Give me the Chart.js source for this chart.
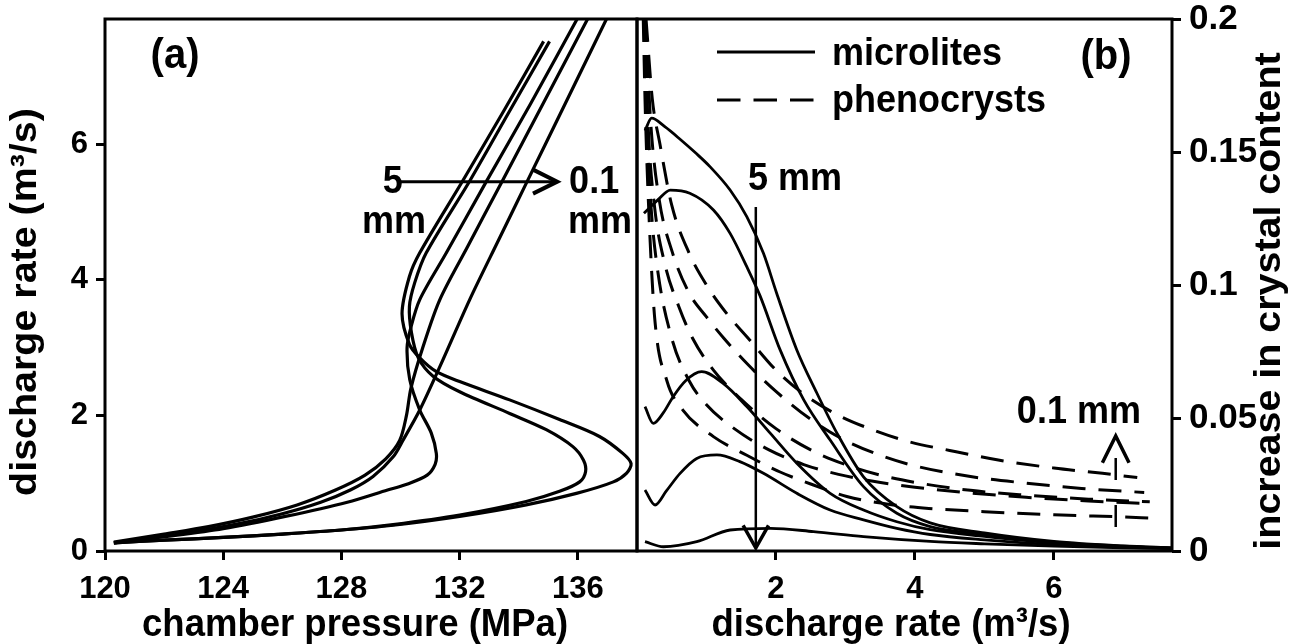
<!DOCTYPE html>
<html>
<head>
<meta charset="utf-8">
<script src="https://cdn.jsdelivr.net/npm/chart.js@4.4.1/dist/chart.umd.min.js"></script>
<style>
  html, body { margin: 0; padding: 0; background: #fff; }
  #wrap { position: relative; width: 1304px; height: 644px; overflow: hidden; }
  #chartA { position: absolute; left: 0; top: 0; }
  #chartB { position: absolute; left: 630px; top: 0; }
</style>
</head>
<body>
<div id="wrap">
  <canvas id="chartA" width="640" height="644"></canvas>
  <canvas id="chartB" width="674" height="644"></canvas>
</div>
<script>
// (a) discharge rate against chamber pressure, five crystal sizes (5 mm ... 0.1 mm)
const rateA1  = [0.12, 0.16, 0.20, 0.25, 0.31, 0.38, 0.51, 0.68, 0.85, 1.02, 1.15, 1.29, 1.44, 1.69, 1.94, 2.23, 2.50, 2.65, 2.85, 3.05, 3.50, 4.05, 4.40, 5.46, 6.50, 7.52];
const pressA1 = [120.3, 122.0, 124.0, 126.0, 128.0, 129.75, 132.0, 134.25, 135.95, 137.2, 137.65, 137.8, 137.52, 136.73, 135.38, 133.69, 132.0, 131.2, 130.65, 130.3, 130.05, 130.3, 130.65, 132.1, 133.5, 134.84];

const rateA2  = [0.12, 0.16, 0.20, 0.25, 0.31, 0.39, 0.53, 0.73, 0.88, 1.02, 1.17, 1.34, 1.54, 1.79, 2.03, 2.35, 2.58, 2.85, 3.22, 3.61, 3.96, 4.40, 5.46, 6.50, 7.52];
const pressA2 = [120.3, 122.0, 124.0, 126.0, 128.0, 129.75, 132.0, 134.25, 135.38, 136.06, 136.26, 136.19, 135.83, 134.93, 133.69, 132.0, 131.1, 130.6, 130.37, 130.3, 130.48, 130.87, 132.34, 133.7, 135.04];

const rateA3  = [0.12, 0.21, 0.33, 0.51, 0.72, 0.90, 0.99, 1.12, 1.28, 1.44, 1.74, 2.08, 2.53, 3.0, 3.3, 3.71, 4.4, 5.45, 6.6, 7.95];
const pressA3 = [120.3, 122.0, 124.0, 126.1, 128.2, 129.56, 130.24, 130.9, 131.17, 131.21, 131.04, 130.65, 130.31, 130.22, 130.35, 130.65, 131.55, 132.9, 134.4, 136.1];

const rateA4  = [0.13, 0.25, 0.36, 0.50, 0.68, 0.90, 1.12, 1.36, 1.63, 2.0, 2.4, 3.0, 3.71, 4.5, 5.45, 6.6, 7.95];
const pressA4 = [120.3, 122.0, 123.5, 125.0, 126.5, 127.8, 128.8, 129.5, 129.97, 130.2, 130.35, 130.75, 131.33, 132.28, 133.43, 134.82, 136.45];

const rateA5  = [0.12, 0.25, 0.40, 0.55, 0.72, 0.90, 1.10, 1.39, 1.64, 2.08, 2.72, 3.71, 4.6, 5.45, 6.6, 7.95];
const pressA5 = [120.3, 122.5, 124.5, 126.0, 127.3, 128.3, 129.07, 129.75, 130.09, 130.65, 131.33, 132.34, 133.33, 134.28, 135.57, 137.08];

// (b) increase in crystal content against discharge rate
// microlites (solid)
const rateM1 = [0.115, 0.21, 0.4, 0.62, 0.85, 1.05, 1.34, 1.58, 1.82, 2.01, 2.30, 2.59, 2.88, 3.26, 3.74, 4.22, 5.0, 6.0, 7.0, 7.7];
const incM1  = [0.158, 0.1627, 0.1595, 0.1548, 0.1495, 0.1445, 0.1357, 0.1257, 0.1119, 0.0969, 0.0756, 0.0593, 0.0442, 0.0279, 0.0167, 0.0106, 0.0068, 0.0036, 0.0019, 0.0012];
const rateM2 = [0.1, 0.2, 0.3, 0.48, 0.76, 1.10, 1.34, 1.58, 1.77, 2.06, 2.40, 2.78, 3.26, 3.74, 4.22, 5.0, 6.0, 7.0, 7.7];
const incM2  = [0.127, 0.1295, 0.132, 0.1357, 0.1345, 0.1282, 0.1194, 0.1069, 0.096, 0.0756, 0.0568, 0.0417, 0.0242, 0.0142, 0.0092, 0.0062, 0.0033, 0.0018, 0.0011];
const rateM3 = [0.115, 0.235, 0.38, 0.52, 0.7, 0.93, 1.24, 1.58, 1.92, 2.30, 2.78, 3.26, 3.74, 4.22, 5.0, 6.0, 7.0, 7.7];
const incM3  = [0.0543, 0.048, 0.052, 0.058, 0.064, 0.0674, 0.063, 0.0543, 0.0442, 0.033, 0.0217, 0.0154, 0.011, 0.008, 0.0055, 0.003, 0.0017, 0.0011];
const rateM4 = [0.115, 0.26, 0.42, 0.62, 0.86, 1.15, 1.48, 1.82, 2.30, 2.78, 3.26, 3.74, 4.22, 5.0, 6.0, 7.0, 7.7];
const incM4  = [0.0229, 0.0173, 0.0225, 0.0292, 0.0348, 0.0361, 0.0336, 0.0292, 0.0217, 0.0154, 0.0117, 0.0085, 0.0062, 0.0042, 0.0024, 0.0014, 0.001];
const rateM5 = [0.115, 0.38, 0.86, 1.34, 1.92, 2.54, 3.26, 4.22, 5.0, 6.0, 7.0, 7.7];
const incM5  = [0.0035, 0.0016, 0.0035, 0.0079, 0.0085, 0.0073, 0.0054, 0.0036, 0.0027, 0.0018, 0.0012, 0.0009];

// phenocrysts (dashed)
const rateP1 = [0.09, 0.12, 0.19, 0.26, 0.43, 0.66, 1.1, 1.58, 2.06, 2.54, 3.02, 3.64, 4.2, 5.0, 6.0, 7.0, 7.4];
const incP1  = [0.2, 0.165, 0.116, 0.086, 0.064, 0.053, 0.043, 0.036, 0.0297, 0.0248, 0.0205, 0.0175, 0.016, 0.0148, 0.0136, 0.0128, 0.0124];
const rateP2 = [0.1, 0.14, 0.2, 0.3, 0.5, 0.75, 1.0, 1.4, 1.9, 2.4, 2.9, 3.4, 4.0, 4.8, 5.6, 6.5, 7.38];
const incP2  = [0.2, 0.16, 0.13, 0.105, 0.08, 0.064, 0.055, 0.046, 0.038, 0.0325, 0.0288, 0.0262, 0.024, 0.0218, 0.0202, 0.0188, 0.0178];
const rateP3 = [0.11, 0.16, 0.25, 0.4, 0.6, 0.8, 1.1, 1.5, 2.0, 2.5, 3.0, 3.5, 4.0, 4.8, 5.6, 6.5, 7.38];
const incP3  = [0.2, 0.16, 0.13, 0.108, 0.092, 0.08, 0.068, 0.057, 0.046, 0.038, 0.0325, 0.0285, 0.0258, 0.0228, 0.021, 0.0195, 0.0185];
const rateP4 = [0.12, 0.2, 0.32, 0.5, 0.75, 1.0, 1.25, 1.6, 2.0, 2.5, 3.0, 3.5, 4.0, 4.8, 5.6, 6.4, 7.3];
const incP4  = [0.2, 0.16, 0.132, 0.113, 0.097, 0.088, 0.08, 0.07, 0.06, 0.0495, 0.0415, 0.036, 0.032, 0.028, 0.0255, 0.0235, 0.022];
const rateP5 = [0.13, 0.22, 0.33, 0.5, 0.75, 1.0, 1.3, 1.6, 2.0, 2.4, 2.9, 3.4, 3.9, 4.5, 5.2, 6.0, 6.7, 7.2];
const incP5  = [0.2, 0.17, 0.153, 0.13, 0.112, 0.1, 0.089, 0.08, 0.068, 0.059, 0.051, 0.0455, 0.0412, 0.0378, 0.0342, 0.0312, 0.0292, 0.0276];

const ticksA_x = [120, 124, 128, 132, 136];
const ticksA_y = [0, 2, 4, 6];
const ticksB_x = [2, 4, 6];
const ticksB_y = [0, 0.05, 0.1, 0.15, 0.2];

const FONT = '"Liberation Sans", Arial, Helvetica, sans-serif';
const STRETCH = 1.08;   // lettering is a little taller than it is wide
Chart.defaults.font.family = FONT;
Chart.defaults.font.weight = 'bold';
Chart.defaults.color = '#000';

const pairs = (xs, ys) => xs.map((x, i) => ({ x: x, y: ys[i] }));

function txt(ctx, s, x, y, size, align) {
  ctx.save();
  ctx.translate(x, y);
  ctx.scale(1, STRETCH);
  ctx.font = 'bold ' + size + 'px ' + FONT;
  ctx.fillStyle = '#000';
  ctx.textAlign = align || 'center';
  ctx.textBaseline = 'alphabetic';
  ctx.fillText(s, 0, 0);
  ctx.restore();
}

// text turned to read bottom-to-top, baseline on the right
function vtxt(ctx, s, x, y, size) {
  ctx.save();
  ctx.translate(x, y);
  ctx.rotate(-Math.PI / 2);
  ctx.scale(STRETCH, 1);
  ctx.font = 'bold ' + size + 'px ' + FONT;
  ctx.fillStyle = '#000';
  ctx.textAlign = 'center';
  ctx.textBaseline = 'alphabetic';
  ctx.fillText(s, 0, 0);
  ctx.restore();
}

function arrow(ctx, x0, y0, x1, y1, w, head, spread, dash) {
  const ang = Math.atan2(y1 - y0, x1 - x0);
  ctx.save();
  ctx.strokeStyle = '#000';
  ctx.lineWidth = w;
  if (dash) ctx.setLineDash(dash);
  ctx.beginPath(); ctx.moveTo(x0, y0); ctx.lineTo(x1, y1); ctx.stroke();
  ctx.setLineDash([]);
  ctx.lineWidth = w + 1;
  ctx.lineJoin = 'miter';
  ctx.beginPath();
  ctx.moveTo(x1 - head * Math.cos(ang - spread), y1 - head * Math.sin(ang - spread));
  ctx.lineTo(x1, y1);
  ctx.lineTo(x1 - head * Math.cos(ang + spread), y1 - head * Math.sin(ang + spread));
  ctx.stroke();
  ctx.restore();
}

const frame = {
  id: 'frame',
  afterDatasetsDraw(chart) {
    const { ctx, chartArea: a } = chart;
    ctx.save();
    ctx.lineWidth = 3;
    ctx.strokeStyle = '#000';
    ctx.strokeRect(a.left, a.top, a.right - a.left, a.bottom - a.top);
    ctx.restore();
  }
};

const tickFont = { family: FONT, size: 31, weight: 'bold' };
const tickFontRight = { family: FONT, size: 35, weight: 'bold' };
const tickGrid = { drawOnChartArea: false, drawTicks: true, tickLength: 9, tickWidth: 3, tickColor: '#000' };
const keepTicks = list => s => { s.ticks = list.map(v => ({ value: v })); };

// ---- panel (a)
const annoA = {
  id: 'annoA',
  afterDraw(chart) {
    const { ctx, chartArea: a, scales: { x, y } } = chart;
    const px = v => x.getPixelForValue(v), py = v => y.getPixelForValue(v);
    txt(ctx, '(a)', px(122.37), py(7.127), 40);
    txt(ctx, '5', px(129.74), py(5.283), 36);
    txt(ctx, 'mm', px(129.78), py(4.692), 36);
    txt(ctx, '0.1', px(136.55), py(5.283), 36);
    txt(ctx, 'mm', px(136.75), py(4.692), 36);
    arrow(ctx, px(129.98), py(5.45), px(135.3), py(5.45), 3, 27, 0.46);
    txt(ctx, 'chamber pressure (MPa)', px(128.46), 636, 36.5);
    vtxt(ctx, 'discharge rate (m³/s)', a.left - 69, py(3.674), 36.5);
  }
};

const curvesA = [[pressA1, rateA1], [pressA2, rateA2], [pressA3, rateA3], [pressA4, rateA4], [pressA5, rateA5]];

new Chart(document.getElementById('chartA'), {
  type: 'scatter',
  data: {
    datasets: curvesA.map(([p, q]) => ({
      data: pairs(p, q), showLine: true, tension: 0.3,
      borderColor: '#000', borderWidth: 3.2, pointRadius: 0, fill: false
    }))
  },
  options: {
    responsive: false, animation: false, devicePixelRatio: 1,
    layout: { padding: { top: 19, right: 3, left: 0, bottom: 0 } },
    plugins: { legend: { display: false }, tooltip: { enabled: false } },
    scales: {
      x: {
        type: 'linear', min: 120, max: 138,
        ticks: { font: tickFont, color: '#000', padding: 11, maxRotation: 0 },
        afterBuildTicks: keepTicks(ticksA_x),
        grid: tickGrid, border: { display: false },
        afterFit: s => { s.height = 93; s.paddingLeft = 0; s.paddingRight = 0; }
      },
      y: {
        type: 'linear', min: 0, max: 7.85,
        ticks: { font: tickFont, color: '#000', padding: 8 },
        afterBuildTicks: keepTicks(ticksA_y),
        grid: tickGrid, border: { display: false },
        afterFit: s => { s.width = 105; s.paddingTop = 0; s.paddingBottom = 0; }
      }
    }
  },
  plugins: [frame, annoA]
});

// ---- panel (b)
const annoB = {
  id: 'annoB',
  afterDraw(chart) {
    const { ctx, chartArea: a, scales: { x, y } } = chart;
    const px = v => x.getPixelForValue(v), py = v => y.getPixelForValue(v);

    // key
    ctx.save();
    ctx.strokeStyle = '#000';
    ctx.lineWidth = 3;
    ctx.beginPath(); ctx.moveTo(a.left + 80, a.top + 33); ctx.lineTo(a.left + 178, a.top + 33); ctx.stroke();
    ctx.setLineDash([23.5, 13]);
    ctx.beginPath(); ctx.moveTo(a.left + 80, a.top + 81); ctx.lineTo(a.left + 178, a.top + 81); ctx.stroke();
    ctx.restore();
    txt(ctx, 'microlites', a.left + 195, a.top + 46, 36, 'left');
    txt(ctx, 'phenocrysts', a.left + 195, a.top + 93, 36, 'left');

    txt(ctx, '(b)', px(6.75), py(0.1812), 40);
    txt(ctx, '5 mm', px(2.274), py(0.1357), 36);
    arrow(ctx, px(1.71), py(0.1293), px(1.71), py(0) - 3, 2.5, 26, 0.51);
    txt(ctx, '0.1 mm', px(6.36), py(0.0481), 36);
    arrow(ctx, px(6.89), py(0.009), px(6.89), py(0.0444) + 3, 2.5, 30, 0.46, [22, 25]);

    txt(ctx, 'discharge rate (m³/s)', px(3.656), 636, 36.5);
    vtxt(ctx, 'increase in crystal content', a.right + 108, py(0.094), 36.5);
  }
};

const solidB = [[rateM1, incM1], [rateM2, incM2], [rateM3, incM3], [rateM4, incM4], [rateM5, incM5]];
const dashedB = [[rateP1, incP1], [rateP2, incP2], [rateP3, incP3], [rateP4, incP4], [rateP5, incP5]];
const lineB = (xs, ys, dash, w) => ({
  data: pairs(xs, ys), showLine: true, cubicInterpolationMode: 'monotone',
  borderColor: '#000', borderWidth: w, borderDash: dash, pointRadius: 0, fill: false
});

new Chart(document.getElementById('chartB'), {
  type: 'scatter',
  data: {
    datasets: solidB.map(([r, c]) => lineB(r, c, [], 2.8))
      .concat(dashedB.map(([r, c]) => lineB(r, c, [23, 13], 3)))
  },
  options: {
    responsive: false, animation: false, devicePixelRatio: 1,
    layout: { padding: { top: 19, right: 0, left: 7, bottom: 0 } },
    plugins: { legend: { display: false }, tooltip: { enabled: false } },
    scales: {
      x: {
        type: 'linear', min: 0, max: 7.7,
        ticks: { font: tickFont, color: '#000', padding: 11, maxRotation: 0 },
        afterBuildTicks: keepTicks(ticksB_x),
        grid: tickGrid, border: { display: false },
        afterFit: s => { s.height = 93; s.paddingLeft = 0; s.paddingRight = 0; }
      },
      y: {
        type: 'linear', position: 'right', min: 0, max: 0.2,
        ticks: { font: tickFontRight, color: '#000', padding: 8, callback: v => String(+v.toFixed(2)) },
        afterBuildTicks: keepTicks(ticksB_y),
        grid: tickGrid, border: { display: false },
        afterFit: s => { s.width = 132; s.paddingTop = 0; s.paddingBottom = 0; }
      }
    }
  },
  plugins: [frame, annoB]
});
</script>
</body>
</html>
